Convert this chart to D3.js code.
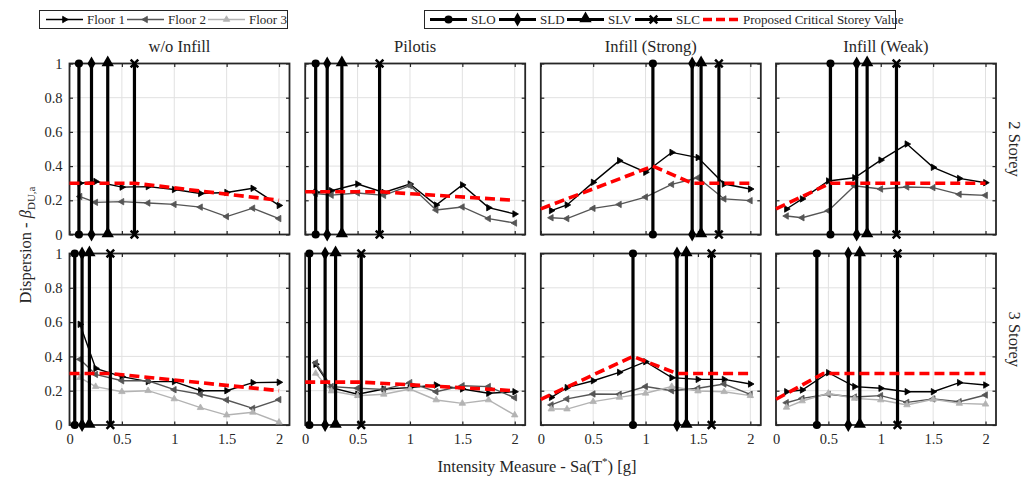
<!DOCTYPE html>
<html><head><meta charset="utf-8">
<script src="https://cdn.jsdelivr.net/npm/d3@7"></script>
<style>
body{margin:0;background:#fff}
text{font-family:"Liberation Serif","Times New Roman",serif;fill:#262626}
</style>
</head><body><svg id="c" width="1027" height="479"></svg>
<script>
// ---------------- DATA ----------------
const imLevels = [0.1,0.25,0.5,0.75,1,1.25,1.5,1.75,2];
const panelTitles = ["w/o Infill","Pilotis","Infill (Strong)","Infill (Weak)"];
const rowLabels = ["2 Storey","3 Storey"];
const xTicks = [0,0.5,1,1.5,2];
const xTickLabels = ["0","0.5","1","1.5","2"];
const yTicks = [0,0.2,0.4,0.6,0.8,1];
const yTickLabels = ["0","0.2","0.4","0.6","0.8","1"];
const legendFloors = ["Floor 1","Floor 2","Floor 3"];
const legendStates = ["SLO","SLD","SLV","SLC"];
const legendCrit = "Proposed Critical Storey Value";

// 2 storey (columns: w/o Infill, Pilotis, Infill Strong, Infill Weak)
const floor1_2S = [
 [0.30,0.31,0.277,0.28,0.263,0.24,0.246,0.27,0.17],
 [0.246,0.256,0.295,0.246,0.295,0.172,0.29,0.157,0.12],
 [0.14,0.173,0.305,0.432,0.364,0.48,0.45,0.295,0.266],
 [0.149,0.208,0.313,0.332,0.435,0.529,0.393,0.328,0.303]];
const floor2_2S = [
 [0.222,0.188,0.192,0.184,0.176,0.16,0.105,0.154,0.093],
 [0.24,0.23,0.243,0.229,0.286,0.143,0.161,0.093,0.067],
 [0.098,0.093,0.153,0.176,0.219,0.293,0.332,0.208,0.198],
 [0.108,0.098,0.139,0.285,0.266,0.278,0.274,0.235,0.229]];
// 3 storey
const floor1_3S = [
 [0.587,0.33,0.282,0.253,0.253,0.2,0.2,0.247,0.249],
 [0.354,0.218,0.179,0.21,0.218,0.233,0.21,0.185,0.194],
 [0.161,0.218,0.258,0.307,0.369,0.276,0.266,0.266,0.239],
 [0.194,0.204,0.305,0.224,0.214,0.194,0.194,0.247,0.233]];
const floor2_3S = [
 [0.383,0.295,0.258,0.258,0.206,0.179,0.146,0.097,0.148],
 [0.363,0.224,0.214,0.208,0.247,0.194,0.229,0.224,0.159],
 [0.117,0.152,0.181,0.179,0.224,0.2,0.214,0.239,0.179],
 [0.13,0.155,0.179,0.163,0.171,0.132,0.152,0.136,0.175]];
const floor3_3S = [
 [0.276,0.224,0.194,0.2,0.152,0.101,0.058,0.074,0.016],
 [0.301,0.198,0.171,0.179,0.21,0.146,0.126,0.146,0.058],
 [0.093,0.093,0.136,0.161,0.185,0.224,0.198,0.194,0.171],
 [0.103,0.14,0.185,0.155,0.146,0.117,0.15,0.126,0.121]];

// limit state intensities
const SLO_2S = [0.09,0.10,1.07,0.52];
const SLD_2S = [0.21,0.21,1.445,0.77];
const SLV_2S = [0.365,0.35,1.53,0.87];
const SLC_2S = [0.62,0.71,1.70,1.15];
const SLO_3S = [0.05,0.04,0.88,0.39];
const SLD_3S = [0.12,0.19,1.30,0.69];
const SLV_3S = [0.19,0.29,1.39,0.80];
const SLC_3S = [0.39,0.535,1.63,1.16];

// proposed critical storey value
const critX_2S = [[0,0.62,2],[0,0.71,2],[0,1.07,1.445,2],[0,0.52,2]];
const critY_2S = [[0.3,0.3,0.2],[0.25,0.25,0.2],[0.15,0.4,0.3,0.3],[0.15,0.3,0.3]];
const critX_3S = [[0,0.39,2],[0,0.535,2],[0,0.88,1.30,2],[0,0.45,2]];
const critY_3S = [[0.3,0.3,0.2],[0.25,0.25,0.2],[0.15,0.4,0.3,0.3],[0.15,0.3,0.3]];

// ---------------- LAYOUT ----------------
const svg = d3.select("#c");
const colX = [69.5,305.2,540.8,776];
const plotW = 220;
const rowY = [[234.5,63.5],[425,253.5]];
const axisCol = "#262626";
const floorCols = ["#000000","#555555","#b3b3b3"];

const rowsData = [
  {floors:[floor1_2S,floor2_2S], ls:[SLO_2S,SLD_2S,SLV_2S,SLC_2S], cx:critX_2S, cy:critY_2S},
  {floors:[floor1_3S,floor2_3S,floor3_3S], ls:[SLO_3S,SLD_3S,SLV_3S,SLC_3S], cx:critX_3S, cy:critY_3S}
];

function floorMarker(g, i, x, y, col){
  const rot = [90,-90,0][i];
  g.append("path").attr("d", d3.symbol(d3.symbolTriangle, 18)())
    .attr("transform",`translate(${x},${y}) rotate(${rot})`).attr("fill",col).attr("stroke",col).attr("stroke-width",0.8);
}
function lsMarker(g, i, x, y){
  if(i===3){
    const s=3.8;
    g.append("path").attr("d",`M${x-s},${y-s}L${x+s},${y+s}M${x-s},${y+s}L${x+s},${y-s}`)
      .attr("stroke","#000").attr("stroke-width",2.5).attr("fill","none");
    return;
  }
  const sym=[d3.symbolCircle,d3.symbolDiamond,d3.symbolTriangle][i];
  const size=[52,56,66][i];
  g.append("path").attr("d",d3.symbol(sym,size)()).attr("transform",`translate(${x},${y + (i===2?-0.8:0)})`).attr("fill","#000");
}

function styleAxis(sel){
  sel.select(".domain").remove();
  sel.selectAll(".tick line").attr("stroke",axisCol).attr("stroke-width",1.2);
  sel.selectAll(".tick text").attr("font-family","Liberation Serif, serif").attr("font-size",14.5).attr("fill","#262626");
}

rowsData.forEach((rd, r) => {
  const y = d3.scaleLinear().domain([0,1]).range(rowY[r]);
  for(let c=0;c<4;c++){
    const x = d3.scaleLinear().domain([0,2.1]).range([colX[c], colX[c]+plotW]);
    const g = svg.append("g");
    // grid
    g.selectAll(null).data(xTicks.slice(1)).join("line")
      .attr("x1",d=>x(d)).attr("x2",d=>x(d)).attr("y1",y(0)).attr("y2",y(1))
      .attr("stroke","#e1e1e1").attr("stroke-width",1);
    g.selectAll(null).data(yTicks.slice(1,-1)).join("line")
      .attr("y1",d=>y(d)).attr("y2",d=>y(d)).attr("x1",x(0)).attr("x2",x(2.1))
      .attr("stroke","#e1e1e1").attr("stroke-width",1);
    // axes with inward ticks
    const bottom = g.append("g").attr("transform",`translate(0,${y(0)})`)
      .call(d3.axisBottom(x).tickValues(xTicks).tickSize(-3.5).tickFormat((d,i)=> r===1 ? xTickLabels[i] : ""));
    styleAxis(bottom);
    bottom.selectAll(".tick text").attr("y",9).attr("dy","0.71em");
    const top = g.append("g").attr("transform",`translate(0,${y(1)})`)
      .call(d3.axisTop(x).tickValues(xTicks).tickSize(-3.5).tickFormat(""));
    styleAxis(top);
    const left = g.append("g").attr("transform",`translate(${x(0)},0)`)
      .call(d3.axisLeft(y).tickValues(yTicks).tickSize(-3.5).tickFormat((d,i)=> c===0 ? yTickLabels[i] : ""));
    styleAxis(left);
    left.selectAll(".tick text").attr("x",-7);
    const right = g.append("g").attr("transform",`translate(${x(2.1)},0)`)
      .call(d3.axisRight(y).tickValues(yTicks).tickSize(-3.5).tickFormat(""));
    styleAxis(right);
    // frame
    g.append("rect").attr("x",x(0)).attr("y",y(1)).attr("width",x(2.1)-x(0)).attr("height",y(0)-y(1))
      .attr("fill","none").attr("stroke",axisCol).attr("stroke-width",1.8);

    // floor lines
    const line = d3.line().x((d,i)=>x(imLevels[i])).y(d=>y(d));
    rd.floors.forEach((f,fi)=>{
      g.append("path").attr("d",line(f[c])).attr("fill","none").attr("stroke",floorCols[fi]).attr("stroke-width",1.4);
      f[c].forEach((v,i)=>floorMarker(g,fi,x(imLevels[i]),y(v),floorCols[fi]));
    });
    // limit state vertical lines
    rd.ls.forEach((arr,li)=>{
      const xv = x(arr[c]);
      g.append("line").attr("x1",xv).attr("x2",xv).attr("y1",y(0)).attr("y2",y(1))
        .attr("stroke","#000").attr("stroke-width",3.2);
      lsMarker(g,li,xv,y(1));
      lsMarker(g,li,xv,y(0));
    });
    // critical value
    const pts = rd.cx[c].map((xx,i)=>[xx, rd.cy[c][i]]);
    g.append("path").attr("d", d3.line().x(d=>x(d[0])).y(d=>y(d[1]))(pts))
      .attr("fill","none").attr("stroke","#ff0000").attr("stroke-width",3.6).attr("stroke-dasharray","10,5");

    // titles
    if(r===0){
      g.append("text").attr("x",x(1.05)).attr("y",52).attr("text-anchor","middle").attr("font-size",16.5).text(panelTitles[c]);
    }
  }
  // row labels
  const yc = (rowY[r][0]+rowY[r][1])/2;
  svg.append("text").attr("transform",`translate(1009,${yc}) rotate(90)`).attr("text-anchor","middle")
    .attr("font-size",16.5).text(rowLabels[r]);
});

// axis titles
const yl = svg.append("text").attr("transform","translate(31,245) rotate(-90)").attr("text-anchor","middle").attr("font-size",16.5);
yl.append("tspan").text("Dispersion - ");
yl.append("tspan").attr("font-style","italic").text("β");
yl.append("tspan").attr("font-size",11).attr("dy",4).text("DU,a");

const xl = svg.append("text").attr("x",537).attr("y",472).attr("text-anchor","middle").attr("font-size",16.5);
xl.append("tspan").text("Intensity Measure - Sa(T");
xl.append("tspan").attr("font-size",11).attr("dy",-7).text("*");
xl.append("tspan").attr("dy",7).text(") [g]");

// ---------------- LEGENDS ----------------
const lg1 = svg.append("g");
lg1.append("rect").attr("x",39.5).attr("y",10.5).attr("width",248).attr("height",18).attr("fill","#fff").attr("stroke","#262626").attr("stroke-width",1);
const l1x = [46,127,208];
legendFloors.forEach((t,i)=>{
  lg1.append("line").attr("x1",l1x[i]).attr("x2",l1x[i]+37).attr("y1",19.5).attr("y2",19.5).attr("stroke",floorCols[i]).attr("stroke-width",1.4);
  floorMarker(lg1,i,l1x[i]+18.5,19.5,floorCols[i]);
  lg1.append("text").attr("x",l1x[i]+41).attr("y",24).attr("font-size",13).text(t);
});
const lg2 = svg.append("g");
lg2.append("rect").attr("x",424.5).attr("y",10.5).attr("width",471).attr("height",18).attr("fill","#fff").attr("stroke","#262626").attr("stroke-width",1);
const l2x = [430,499,567,635];
legendStates.forEach((t,i)=>{
  lg2.append("line").attr("x1",l2x[i]).attr("x2",l2x[i]+37).attr("y1",19.5).attr("y2",19.5).attr("stroke","#000").attr("stroke-width",3.2);
  lsMarker(lg2,i,l2x[i]+18.5,19.5);
  lg2.append("text").attr("x",l2x[i]+41).attr("y",24).attr("font-size",13).text(t);
});
lg2.append("line").attr("x1",703).attr("x2",740).attr("y1",19.5).attr("y2",19.5).attr("stroke","#ff0000").attr("stroke-width",3.6).attr("stroke-dasharray","9,4");
lg2.append("text").attr("x",743).attr("y",24).attr("font-size",13).text(legendCrit);
</script>
</body></html>
